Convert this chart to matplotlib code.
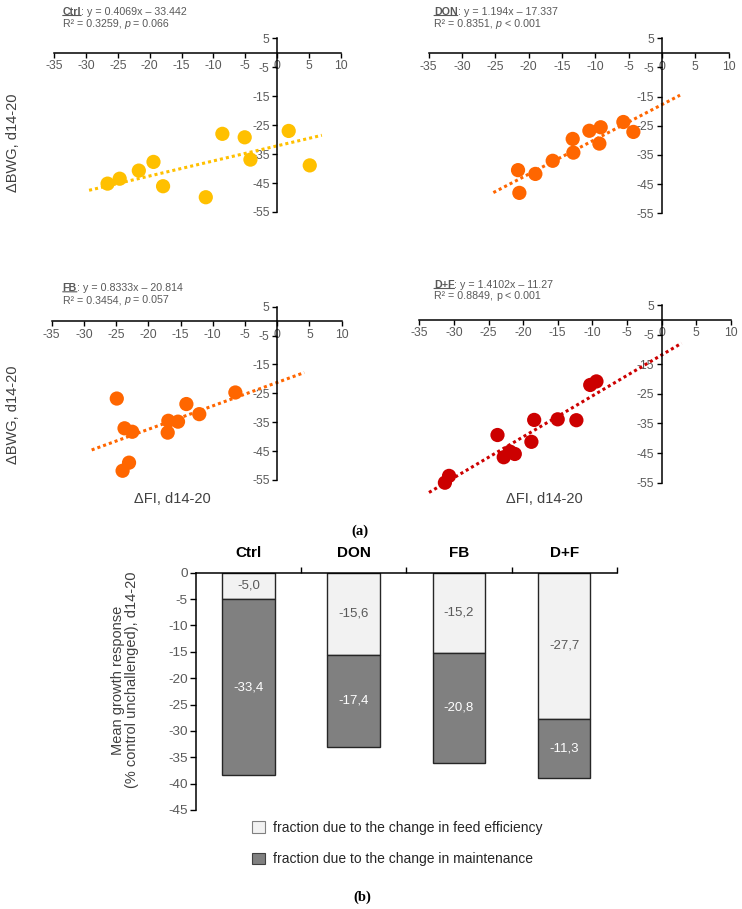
import matplotlib
matplotlib.use("Agg")
import matplotlib.pyplot as plt
from matplotlib.patches import Patch

plt.rcParams['font.family'] = ['Liberation Sans', 'DejaVu Sans']
plt.rcParams['axes.unicode_minus'] = False

GREY = '#595959'

# ---- (a) scatter data ----
ctrl_x = [-26.6, -24.7, -21.7, -19.4, -17.9, -11.2, -8.6, -5.1, -4.2, 1.8, 5.1]
ctrl_y = [-45.2, -43.5, -40.7, -37.7, -46.1, -49.9, -28.0, -29.2, -36.9, -27.0, -38.9]

don_x = [-21.6, -21.4, -19.0, -16.4, -13.4, -13.3, -10.9, -9.2, -9.4, -5.8, -4.3]
don_y = [-40.2, -48.0, -41.5, -37.0, -29.5, -34.2, -26.7, -25.5, -31.1, -23.7, -27.1]

fb_x = [-24.9, -23.7, -22.5, -24.0, -23.0, -16.9, -17.0, -15.4, -14.1, -12.1, -6.5]
fb_y = [-26.8, -37.1, -38.3, -51.8, -49.0, -34.5, -38.6, -34.8, -28.7, -32.2, -24.7]

df_x = [-30.7, -31.3, -23.7, -22.8, -21.9, -21.2, -18.8, -18.4, -15.0, -12.3, -10.3, -9.4]
df_y = [-52.7, -55.0, -38.9, -46.4, -44.5, -45.3, -41.2, -33.8, -33.6, -33.9, -22.0, -20.8]

# trend line end points (x0, x1), (y0, y1)
ctrl_trend = ([-29.5, 7.0], [-47.5, -28.5])
don_trend = ([-25.3, 2.7], [-47.9, -14.5])
fb_trend = ([-28.8, 4.2], [-44.6, -17.8])
df_trend = ([-33.6, 2.9], [-58.3, -7.9])

group_names = ['Ctrl', 'DON', 'FB', 'D+F']
equations = [': y = 0.4069x \u2013 33.442', ': y = 1.194x \u2013 17.337',
             ': y = 0.8333x \u2013 20.814', ': y = 1.4102x \u2013 11.27']
r2_text = ['R\u00b2 = 0.3259, ', 'R\u00b2 = 0.8351, ', 'R\u00b2 = 0.3454, ', 'R\u00b2 = 0.8849, ']
p_text = [' = 0.066', ' < 0.001', ' = 0.057', ' < 0.001']
p_italic = [True, True, True, False]
colors = ['#FFC000', '#FF6600', '#FF6600', '#CC0000']

x_ticks = [-35, -30, -25, -20, -15, -10, -5, 0, 5, 10]
y_ticks = [5, -5, -15, -25, -35, -45, -55]

# ---- (b) bar data ----
bar_groups = ['Ctrl', 'DON', 'FB', 'D+F']
feed_eff = [-5.0, -15.6, -15.2, -27.7]
maintenance = [-33.4, -17.4, -20.8, -11.3]
bar_ticks = [0, -5, -10, -15, -20, -25, -30, -35, -40, -45]

W, H = 742, 909
fig = plt.figure(figsize=(W / 100, H / 100), dpi=100)


def px_axes(x0, y0, x1, y1):
    # pixel box (top-left origin) -> axes
    return fig.add_axes([x0 / W, 1 - y1 / H, (x1 - x0) / W, (y1 - y0) / H])


def scatter_panel(ax, xs, ys, trend, color):
    ax.set_xlim(-35, 10)
    ax.set_ylim(-55, 5)
    for s in ['top', 'right']:
        ax.spines[s].set_visible(False)
    ax.spines['left'].set_position(('data', 0))
    ax.spines['bottom'].set_position(('data', 0))
    for s in ['left', 'bottom']:
        ax.spines[s].set_color('black')
        ax.spines[s].set_linewidth(1.1)
    ax.set_xticks(x_ticks)
    ax.set_yticks(y_ticks)
    ax.set_xticklabels([str(t) for t in x_ticks])
    ax.set_yticklabels([str(t) for t in y_ticks])
    ax.tick_params(direction='out', length=3.5, width=1, labelsize=8.7,
                   labelcolor=GREY, pad=2)
    ax.patch.set_visible(False)
    ax.plot(trend[0], trend[1], color=color, lw=2.2, ls=(0, (1, 1)), clip_on=False, zorder=2)
    ax.scatter(xs, ys, s=105, color=color, edgecolors='none', clip_on=False, zorder=3)


def label_block(x, y1, y2, i):
    fs = 7.7
    t = fig.text(x / W, 1 - y1 / H, group_names[i], fontsize=fs, fontweight='bold',
                 color=GREY, va='baseline')
    plt.annotate(equations[i], xy=(1, 0), xycoords=t, fontsize=fs, color=GREY,
                 va='bottom', ha='left')
    plt.annotate('', xy=(0, 0.12), xycoords=t, xytext=(1, 0.12), textcoords=t,
                 arrowprops=dict(arrowstyle='-', color=GREY, lw=0.8, shrinkA=0, shrinkB=0))
    r = fig.text(x / W, 1 - y2 / H, r2_text[i], fontsize=fs, color=GREY, va='baseline')
    p = plt.annotate('p', xy=(1, 0), xycoords=r, fontsize=fs, color=GREY, va='bottom',
                     ha='left', style='italic' if p_italic[i] else 'normal')
    plt.annotate(p_text[i], xy=(1, 0), xycoords=p, fontsize=fs, color=GREY,
                 va='bottom', ha='left')


boxes = [(54, 38.3, 341, 212), (428.7, 38.3, 728.7, 213.3),
         (51.7, 306.7, 341.7, 480), (419.3, 305, 730.7, 482.7)]
data = [(ctrl_x, ctrl_y, ctrl_trend), (don_x, don_y, don_trend),
        (fb_x, fb_y, fb_trend), (df_x, df_y, df_trend)]
text_pos = [(62.7, 14.7, 27), (434, 14.7, 27), (62.7, 291, 303.3), (434, 287.7, 299)]

for i in range(4):
    ax = px_axes(*boxes[i])
    scatter_panel(ax, data[i][0], data[i][1], data[i][2], colors[i])
    label_block(text_pos[i][0], text_pos[i][1], text_pos[i][2], i)

# axis titles for panel (a)
fig.text(13 / W, 1 - 143 / H, '\u0394BWG, d14-20', rotation=90, fontsize=10.5,
         color='#404040', ha='center', va='center')
fig.text(13 / W, 1 - 415 / H, '\u0394BWG, d14-20', rotation=90, fontsize=10.5,
         color='#404040', ha='center', va='center')
fig.text(172 / W, 1 - 499 / H, '\u0394FI, d14-20', fontsize=10.5, color='#404040',
         ha='center', va='center')
fig.text(544.5 / W, 1 - 499 / H, '\u0394FI, d14-20', fontsize=10.5, color='#404040',
         ha='center', va='center')
fig.text(360 / W, 1 - 531 / H, '(a)', fontsize=10.5, fontweight='bold',
         family='Liberation Serif', ha='center', va='center')

# ---- (b) stacked bars ----
bx = px_axes(196, 572.7, 616.7, 810)
pos = list(range(len(bar_groups)))
bx.bar(pos, feed_eff, width=0.5, color='#F2F2F2', edgecolor='#262626', linewidth=1.0)
bx.bar(pos, maintenance, bottom=feed_eff, width=0.5, color='#808080',
       edgecolor='#262626', linewidth=1.0)
for i in pos:
    bx.text(i, feed_eff[i] / 2, ('%.1f' % feed_eff[i]).replace('.', ','),
            ha='center', va='center', fontsize=9.5, color=GREY)
    bx.text(i, feed_eff[i] + maintenance[i] / 2, ('%.1f' % maintenance[i]).replace('.', ','),
            ha='center', va='center', fontsize=9.5, color='white')
bx.set_xlim(-0.5, 3.5)
bx.set_ylim(-45, 0)
bx.spines['right'].set_visible(False)
bx.spines['bottom'].set_visible(False)
for s in ['left', 'top']:
    bx.spines[s].set_linewidth(1.1)
bx.xaxis.tick_top()
bx.set_xticks(pos)
bx.set_xticklabels(bar_groups, fontsize=11, fontweight='bold')
bx.set_xticks([0.5, 1.5, 2.5, 3.5], minor=True)
bx.tick_params(axis='x', which='major', length=0, pad=9)
bx.tick_params(axis='x', which='minor', length=4, width=1, direction='out')
bx.set_yticks(bar_ticks)
bx.set_yticklabels([str(t) for t in bar_ticks])
bx.tick_params(axis='y', length=4, width=1, labelsize=9.7, labelcolor=GREY, pad=2)
bx.patch.set_visible(False)

fig.text(125 / W, 1 - 680 / H, 'Mean growth response\n(% control unchallenged), d14-20',
         rotation=90, fontsize=10.5, color='#404040', ha='center', va='center',
         multialignment='center', linespacing=1.05)

handles = [Patch(facecolor='#F2F2F2', edgecolor='#808080', lw=0.8),
           Patch(facecolor='#808080', edgecolor='#404040', lw=0.8)]
fig.legend(handles, ['fraction due to the change in feed efficiency',
                     'fraction due to the change in maintenance'],
           loc='upper left', bbox_to_anchor=(252 / W, 1 - 821 / H), frameon=False,
           fontsize=10, labelcolor='#262626', handlelength=0.9, handleheight=0.9,
           handletextpad=0.6, labelspacing=1.25, borderpad=0, borderaxespad=0)

fig.text(362 / W, 1 - 897 / H, '(b)', fontsize=10.5, fontweight='bold',
         family='Liberation Serif', ha='center', va='center')

fig.savefig('out.png', dpi=100, facecolor='white')
